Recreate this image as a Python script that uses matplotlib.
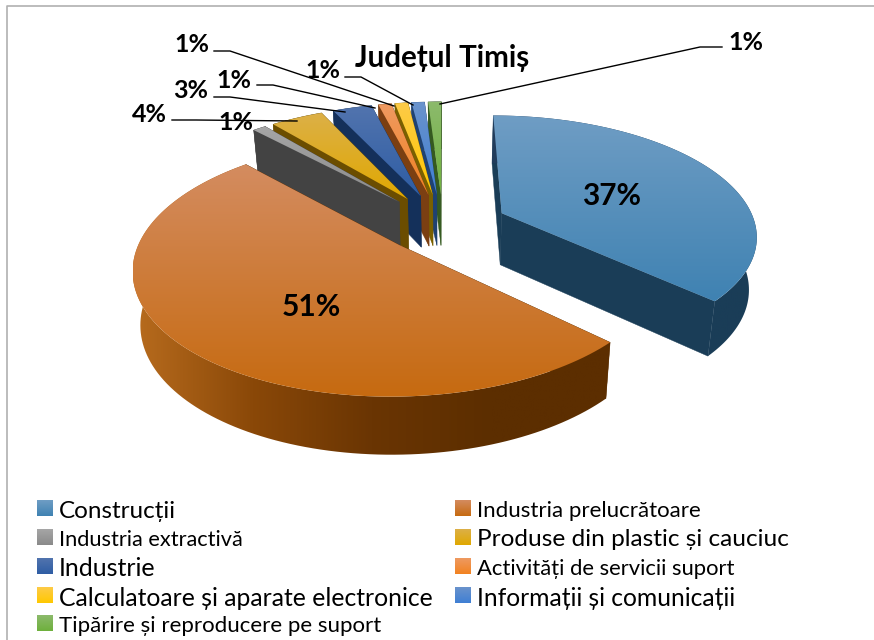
import numpy as np
import matplotlib
matplotlib.use("Agg")
import matplotlib.pyplot as plt
from matplotlib.patches import Polygon
from matplotlib.colors import LinearSegmentedColormap

plt.rcParams['font.family'] = ['Lato', 'Noto Sans', 'DejaVu Sans']

title = "Județul Timiș"
categories = ["Construcții", "Industria prelucrătoare", "Industria extractivă",
              "Produse din plastic și cauciuc", "Industrie", "Activități de servicii suport",
              "Calculatoare și aparate electronice", "Informații și comunicații",
              "Tipărire și reproducere pe suport"]
values = [37, 51, 1, 4, 3, 1, 1, 1, 1]

#colours: top of the gradient, bottom of the gradient, side wall
top_light = ["#6f9dc4", "#d48c60", "#a6a6a6", "#dcb048", "#5274ae", "#ee9a62", "#fdcb48", "#6a93cc", "#8cba6c"]
top_dark = ["#3f82b2", "#c66a10", "#8a8a8a", "#e0a800", "#2e5da4", "#f28220", "#ffc800", "#3f7fd4", "#6eb03c"]
walls = ["#1a3d57", "#5c2e00", "#434343", "#6b4d00", "#14305a", "#7b3f12", "#7a6000", "#1f4272", "#355a20"]
#wall colours from left to right along the outer edge
wall_ramps = [["#223c5c", "#1a3d57", "#1a3d57"], ["#b86c1e", "#8a4808", "#6a3503", "#5c2e00", "#5c2e00"]]

#pie layout in pixels
cx, cy = 443, 225
rx, ry = 254, 118
persp = 0.17
explode = [0.256, 0.235, 0.27, 0.27, 0.27, 0.27, 0.27, 0.27, 0.27]
depth = 52

def project(u, v):
    w = 1 + persp * v
    return cx + rx * u / w, cy - ry * v / w

def project_low(u, v):
    x, y = project(u, v)
    w = 1 + persp * v
    return cx + (x - cx) * 0.975, y + depth / np.sqrt(w)

fig = plt.figure(figsize=(8.74, 6.40), dpi=100)
ax = fig.add_axes([0, 0, 1, 1])
ax.set_xlim(0, 874)
ax.set_ylim(640, 0)
ax.axis("off")

#chart border
ax.plot([7, 7, 874], [640, 6, 6], color="#b0b0b0", lw=1.2)

def gradient_fill(pts, colors, zorder, horizontal=False):
    poly = Polygon(pts, closed=True, fc="none", ec="none", transform=ax.transData)
    ax.add_patch(poly)
    ys = [p[1] for p in pts]
    xs = [p[0] for p in pts]
    cmap = LinearSegmentedColormap.from_list("g", colors)
    ramp = np.linspace(0, 1, 256)
    ramp = ramp.reshape(1, -1) if horizontal else ramp.reshape(-1, 1)
    im = ax.imshow(ramp, cmap=cmap, aspect="auto",
                   extent=[min(xs), max(xs), max(ys), min(ys)], zorder=zorder)
    im.set_clip_path(poly)

#angles clockwise from 12 o'clock
edges = np.cumsum([0] + values) * 3.6
paint_order = [8, 7, 6, 5, 4, 3, 2, 0, 1]

for n, i in enumerate(paint_order):
    a0, a1 = edges[i], edges[i + 1]
    mid = np.radians((a0 + a1) / 2)
    ox, oy = explode[i] * np.sin(mid), explode[i] * np.cos(mid)
    th = np.radians(np.linspace(a0, a1, 120))
    us = ox + np.sin(th)
    vs = oy + np.cos(th)
    z = 2 + n * 3

    #flat cut faces
    for j in [0, -1]:
        quad = [project(ox, oy), project(us[j], vs[j]), project_low(us[j], vs[j]), project_low(ox, oy)]
        ax.add_patch(Polygon(quad, closed=True, fc=walls[i], ec=walls[i], lw=0.3, zorder=z))

    #outer wall
    rim = [project(u, v) for u, v in zip(us, vs)]
    low = [project_low(u, v) for u, v in zip(us, vs)]
    if i < 2:
        gradient_fill(rim + low[::-1], wall_ramps[i], z, horizontal=True)
    else:
        ax.add_patch(Polygon(rim + low[::-1], closed=True, fc=walls[i], ec=walls[i], lw=0.3, zorder=z))

    #top face
    gradient_fill([project(ox, oy)] + rim, [top_light[i], top_dark[i]], z + 1)

#leader lines
leaders = [[(214, 51), (230, 51), (394, 106)],
           [(257, 85), (273, 85), (375, 108)],
           [(214, 97), (230, 97), (345, 112)],
           [(172, 120), (196, 120), (297, 121)],
           [(345, 77), (361, 77), (413, 105)],
           [(722, 47), (700, 47), (440, 104)]]
for line in leaders:
    ax.plot([p[0] for p in line], [p[1] for p in line], color="black", lw=1, zorder=50)

#percent labels, in slice order
label_pos = [(612, 196), (311, 307), (236, 123), (149, 115), (191, 90), (234, 80), (192, 45), (323, 71), (746, 42)]
for v, (x, y) in zip(values, label_pos):
    ax.text(x, y, str(v) + "%", ha="center", va="center", fontsize=21.5 if v > 30 else 18,
            fontweight="bold", color="black", zorder=60)

ax.text(442, 58, title, ha="center", va="center", fontsize=21.3, fontweight="bold", zorder=60)

#legend
leg_x = [37, 455, 37, 455, 37, 455, 37, 455, 37]
leg_y = [500, 500, 529, 529, 558, 558, 587, 587, 615]
leg_size = [17.5, 16, 15.7, 17.6, 18, 15.8, 17.8, 17.7, 16]
for i, name in enumerate(categories):
    x, y = leg_x[i], leg_y[i]
    gradient_fill([(x, y), (x + 16, y), (x + 16, y + 16), (x, y + 16)], [top_light[i], top_dark[i]], 60)
    ax.text(x + 22, y + 11, name, ha="left", va="center", fontsize=leg_size[i], zorder=60)

ax.set_xlim(0, 874)
ax.set_ylim(640, 0)
fig.savefig("out.png", dpi=100)
